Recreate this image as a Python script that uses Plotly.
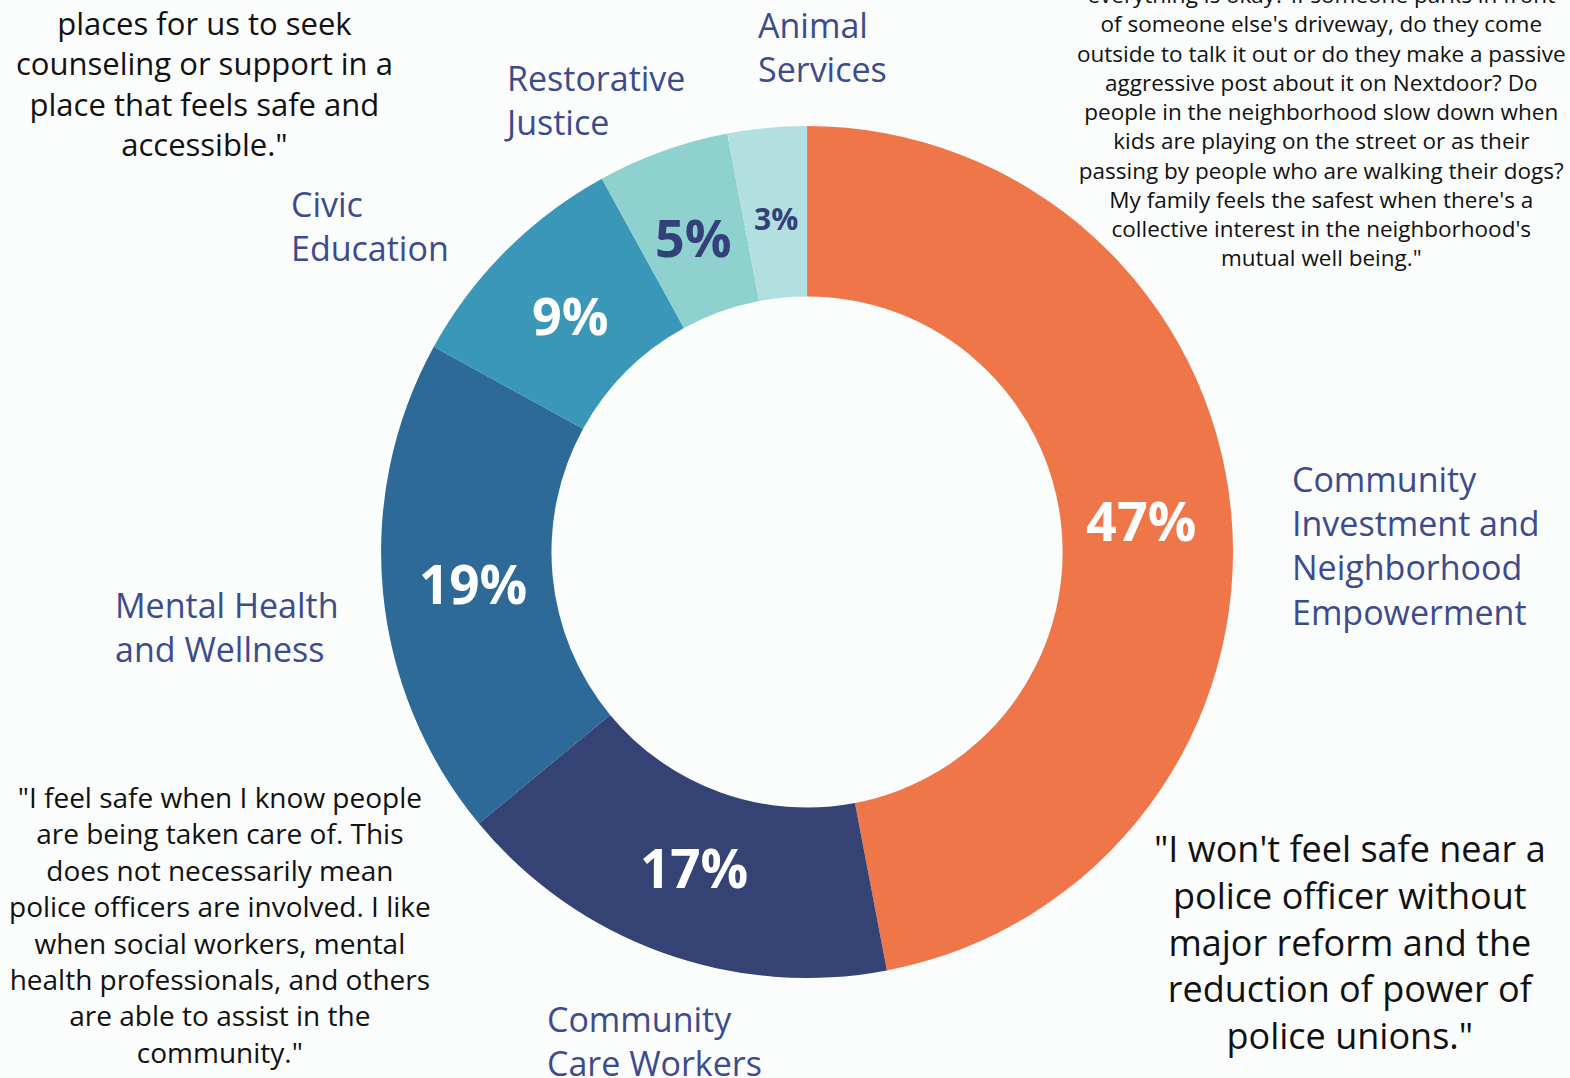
import math
import plotly.graph_objects as go

# slices, clockwise from 12 o'clock
categories = ['Community Investment and Neighborhood Empowerment', 'Community Care Workers',
              'Mental Health and Wellness', 'Civic Education', 'Restorative Justice', 'Animal Services']
shares = [47, 17, 19, 9, 5, 3]
slice_colors = ['#EE7649', '#344274', '#2D6A98', '#3A97B7', '#8FD1CE', '#B2DFDF']
pct_colors = ['white', 'white', 'white', 'white', '#33407A', '#33407A']
pct_sizes = [54, 53, 53, 52, 52, 30]

# category captions placed around the ring (text, x, y in paper units)
captions = [
    ('Community<br>Investment and<br>Neighborhood<br>Empowerment', 0.8217, 0.4944),
    ('Community<br>Care Workers', 0.3471, 0.0339),
    ('Mental Health<br>and Wellness', 0.0720, 0.4184),
    ('Civic<br>Education', 0.1841, 0.7908),
    ('Restorative<br>Justice', 0.3197, 0.9068),
    ('Animal<br>Services', 0.4815, 0.9564),
]

quotes = [
    ('places for us to seek<br>counseling or support in a<br>place that feels safe and<br>accessible."',
     0.130, 0.9225, 31),
    ('everything is okay? If someone parks in front<br>of someone else\'s driveway, do they come<br>'
     'outside to talk it out or do they make a passive<br>aggressive post about it on Nextdoor? Do<br>'
     'people in the neighborhood slow down when<br>kids are playing on the street or as their<br>'
     'passing by people who are walking their dogs?<br>My family feels the safest when there\'s a<br>'
     'collective interest in the neighborhood\'s<br>mutual well being."',
     0.842, 0.8827, 22.5),
    ('"I feel safe when I know people<br>are being taken care of. This<br>does not necessarily mean<br>'
     'police officers are involved. I like<br>when social workers, mental<br>health professionals, and others<br>'
     'are able to assist in the<br>community."',
     0.140, 0.1424, 28),
    ('"I won\'t feel safe near a<br>police officer without<br>major reform and the<br>reduction of power of<br>'
     'police unions."',
     0.860, 0.1257, 36),
]

FONT = 'Open Sans'
LABEL_COLOR = '#3C4B8F'
W, H = 1570, 1078
dom_x = [0.2427, 0.7854]
dom_y = [0.0928, 0.8831]

fig = go.Figure(go.Pie(
    labels=categories, values=shares, sort=False, direction='clockwise', rotation=0,
    hole=0.60,
    marker=dict(colors=slice_colors, line=dict(width=0)),
    textinfo='none',
    domain=dict(x=dom_x, y=dom_y),
    showlegend=False, hoverinfo='label+percent',
))

# percent labels at the middle angle of each slice
cx = (dom_x[0] + dom_x[1]) / 2 * W
cy = (dom_y[0] + dom_y[1]) / 2 * H
r_out = (dom_y[1] - dom_y[0]) / 2 * H
r_lab = r_out * 0.787
total = sum(shares)
cum = 0
for v, c, s in zip(shares, pct_colors, pct_sizes):
    mid = (cum + v / 2) / total * 2 * math.pi
    cum += v
    fig.add_annotation(text='<b>%d%%</b>' % v, x=(cx + r_lab * math.sin(mid)) / W,
                       y=(cy + r_lab * math.cos(mid)) / H, xref='paper', yref='paper',
                       xanchor='center', yanchor='middle',
                       showarrow=False, font=dict(family=FONT, size=s, color=c))

for txt, x, y in captions:
    fig.add_annotation(text=txt, x=x, y=y, xref='paper', yref='paper', xanchor='left',
                       yanchor='middle', align='left', showarrow=False,
                       font=dict(family=FONT, size=34, color=LABEL_COLOR))

for txt, x, y, sz in quotes:
    fig.add_annotation(text=txt, x=x, y=y, xref='paper', yref='paper', xanchor='center',
                       yanchor='middle', align='center', showarrow=False,
                       font=dict(family=FONT, size=sz, color='#111111'))

fig.update_layout(width=W, height=H, margin=dict(t=0, b=0, l=0, r=0),
                  paper_bgcolor='#FBFCFC', plot_bgcolor='#FBFCFC')

fig.write_html("out.html", config={'displayModeBar': False},
               post_script="document.body.style.margin='0';document.body.style.overflow='hidden';"
                           "document.body.style.background='#FBFCFC';")
